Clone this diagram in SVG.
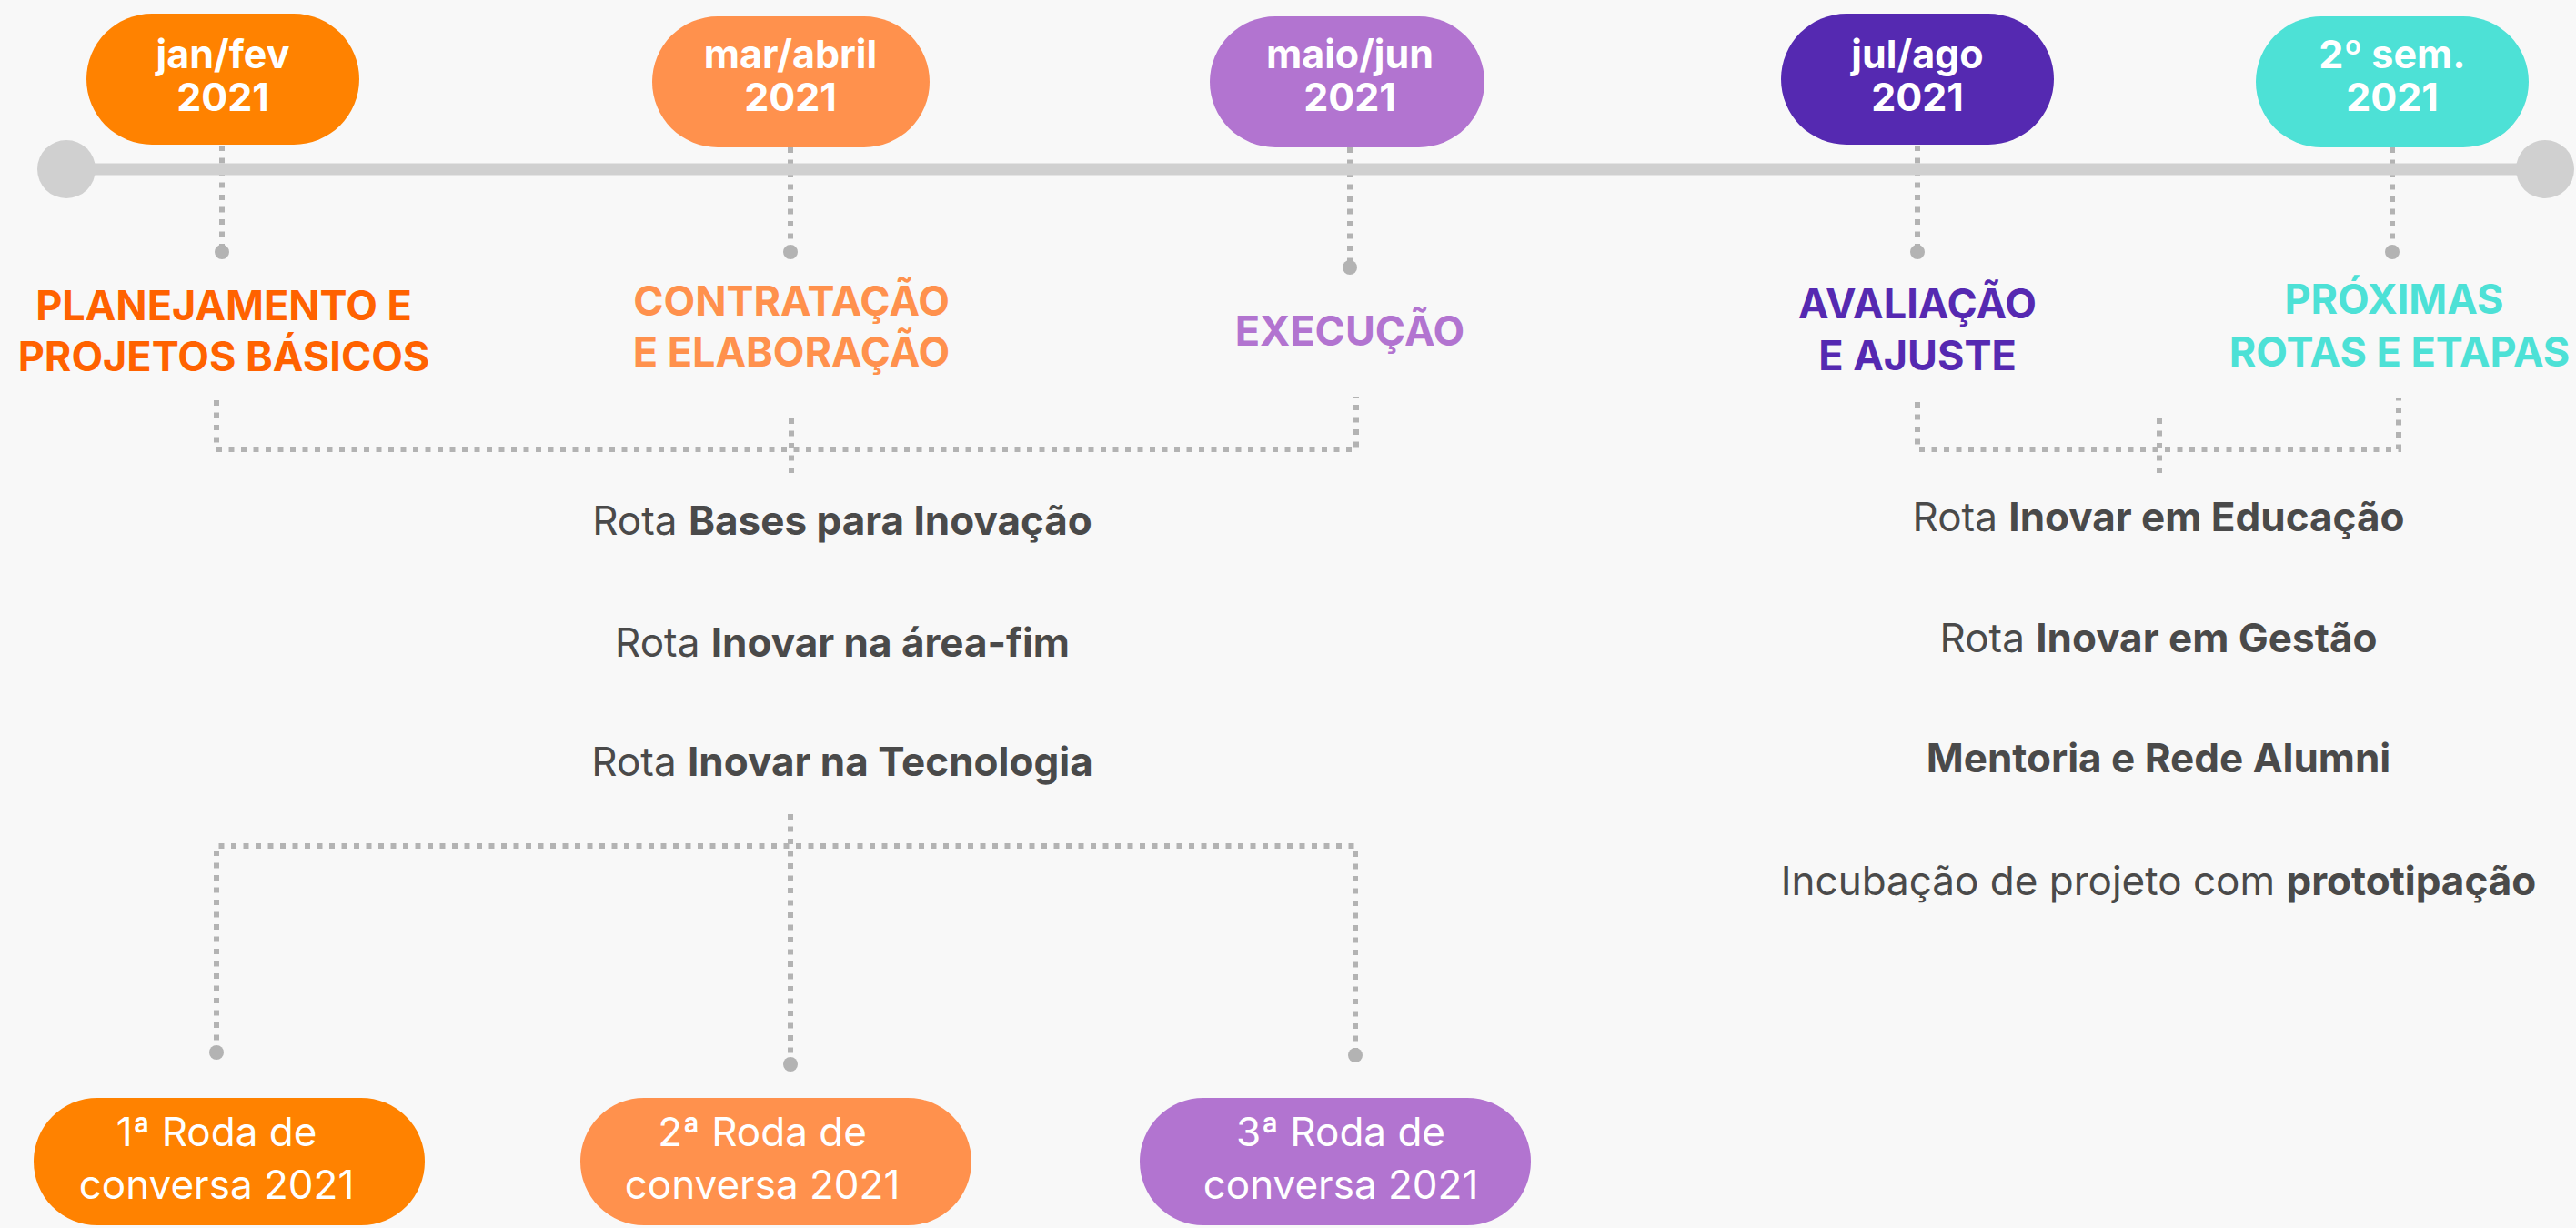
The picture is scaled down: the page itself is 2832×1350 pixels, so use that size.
<svg xmlns="http://www.w3.org/2000/svg" width="2832" height="1350" viewBox="0 0 2832 1350">
<style>
.bg{fill:#f8f8f8}
.dash{fill:none;stroke:#b3b3b3;stroke-width:6;stroke-dasharray:6 7.5}
.dot{fill:#b3b3b3}
.tl{stroke:#d0d0d0;stroke-width:13;fill:none}
.end{fill:#d0d0d0}
.pt{font-family:Inter,"Liberation Sans",sans-serif;font-weight:700;font-size:43px;fill:#fff;text-anchor:middle}
.hd{font-family:Inter,"Liberation Sans",sans-serif;font-weight:700;font-size:45px;text-anchor:middle}
.ls{font-family:Inter,"Liberation Sans",sans-serif;font-weight:400;font-size:44px;fill:#4a4a4a;text-anchor:middle}
.ls .b{font-weight:700}
.bt{font-family:Inter,"Liberation Sans",sans-serif;font-weight:400;font-size:44px;fill:#fff;text-anchor:middle}
</style>
<rect class="bg" x="0" y="0" width="2832" height="1350"/>
<g id="connectors">
<path class="dash" d="M244 160V277M869 162V277M1484 162V294M2108 160V277M2630 162V277"/>
<path class="dash" d="M238 440V494H1491V436M870 460V527"/>
<path class="dash" d="M2108 442V494H2637V438M2374 460V527"/>
<path class="dash" d="M869 895V1170M238 1157V930H1490V1160"/>
<circle class="dot" cx="244" cy="277" r="8"/>
<circle class="dot" cx="869" cy="277" r="8"/>
<circle class="dot" cx="1484" cy="294" r="8"/>
<circle class="dot" cx="2108" cy="277" r="8"/>
<circle class="dot" cx="2630" cy="277" r="8"/>
<circle class="dot" cx="238" cy="1157" r="8"/>
<circle class="dot" cx="869" cy="1170" r="8"/>
<circle class="dot" cx="1490" cy="1160" r="8"/>
</g>
<g id="timeline">
<line class="tl" x1="73" y1="186" x2="2798" y2="186"/>
<circle class="end" cx="73" cy="186" r="32"/>
<circle class="end" cx="2798" cy="186" r="32"/>
</g>
<g id="pill-janfev">
<rect x="95" y="15" width="300" height="144" rx="72" fill="#ff8200"/>
<text class="pt" x="245" y="75">jan/fev</text>
<text class="pt" x="245" y="122">2021</text>
</g>
<g id="pill-marabril">
<rect x="717" y="18" width="305" height="144" rx="72" fill="#ff914d"/>
<text class="pt" x="869" y="75">mar/abril</text>
<text class="pt" x="869" y="122">2021</text>
</g>
<g id="pill-maiojun">
<rect x="1330" y="18" width="302" height="144" rx="72" fill="#b274d0"/>
<text class="pt" x="1484" y="75">maio/jun</text>
<text class="pt" x="1484" y="122">2021</text>
</g>
<g id="pill-julago">
<rect x="1958" y="15" width="300" height="144" rx="72" fill="#5529b1"/>
<text class="pt" x="2108" y="75">jul/ago</text>
<text class="pt" x="2108" y="122">2021</text>
</g>
<g id="pill-2sem">
<rect x="2480" y="18" width="300" height="144" rx="72" fill="#4de1d6"/>
<text class="pt" x="2630" y="75">2º sem.</text>
<text class="pt" x="2630" y="122">2021</text>
</g>
<g id="head-planejamento" fill="#ff6200">
<text class="hd" x="246" y="352">PLANEJAMENTO E</text>
<text class="hd" x="246" y="408">PROJETOS BÁSICOS</text>
</g>
<g id="head-contratacao" fill="#ff914d">
<text class="hd" x="870" y="347">CONTRATAÇÃO</text>
<text class="hd" x="870" y="403">E ELABORAÇÃO</text>
</g>
<g id="head-execucao" fill="#b274d0">
<text class="hd" x="1484" y="380">EXECUÇÃO</text>
</g>
<g id="head-avaliacao" fill="#5529b1">
<text class="hd" x="2108" y="350">AVALIAÇÃO</text>
<text class="hd" x="2108" y="407">E AJUSTE</text>
</g>
<g id="head-proximas" fill="#4de1d6">
<text class="hd" x="2632" y="345">PRÓXIMAS</text>
<text class="hd" x="2638" y="403">ROTAS E ETAPAS</text>
</g>
<g id="list-left">
<text class="ls" x="926" y="588">Rota <tspan class="b">Bases para Inovação</tspan></text>
<text class="ls" x="926" y="722">Rota <tspan class="b">Inovar na área-fim</tspan></text>
<text class="ls" x="926" y="853">Rota <tspan class="b">Inovar na Tecnologia</tspan></text>
</g>
<g id="list-right">
<text class="ls" x="2373" y="584">Rota <tspan class="b">Inovar em Educação</tspan></text>
<text class="ls" x="2373" y="717">Rota <tspan class="b">Inovar em Gestão</tspan></text>
<text class="ls" x="2373" y="849"><tspan class="b">Mentoria e Rede Alumni</tspan></text>
<text class="ls" x="2373" y="984">Incubação de projeto com <tspan class="b">prototipação</tspan></text>
</g>
<g id="roda-1">
<rect x="37" y="1207" width="430" height="140" rx="70" fill="#ff8200"/>
<text class="bt" x="238" y="1260">1ª Roda de</text>
<text class="bt" x="238" y="1318">conversa 2021</text>
</g>
<g id="roda-2">
<rect x="638" y="1207" width="430" height="140" rx="70" fill="#ff914d"/>
<text class="bt" x="838" y="1260">2ª Roda de</text>
<text class="bt" x="838" y="1318">conversa 2021</text>
</g>
<g id="roda-3">
<rect x="1253" y="1207" width="430" height="140" rx="70" fill="#b274d0"/>
<text class="bt" x="1474" y="1260">3ª Roda de</text>
<text class="bt" x="1474" y="1318">conversa 2021</text>
</g>
</svg>
